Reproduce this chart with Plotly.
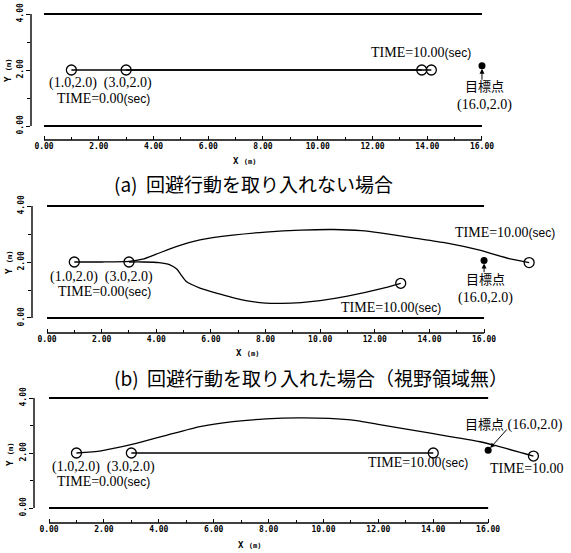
import plotly.graph_objects as go

W, H = 571, 553

# ---------------- data ----------------
wall_x = [0.0, 16.0]
wall_top_y = [4.0, 4.0]
wall_bottom_y = [0.0, 0.0]

x_tick_vals = [0, 2, 4, 6, 8, 10, 12, 14, 16]
x_tick_text = ["0.00", "2.00", "4.00", "6.00", "8.00", "10.00", "12.00", "14.00", "16.00"]
x_minor_vals = [1, 3, 5, 7, 9, 11, 13, 15]
y_tick_vals = [0, 2, 4]
y_tick_text = ["0.00", "2.00", "4.00"]
y_minor_vals = [1, 3]

# (a) no avoidance
a_agent1_x = [1.0, 13.8]
a_agent1_y = [2.0, 2.0]
a_agent2_x = [3.0, 14.15]
a_agent2_y = [2.0, 2.0]
a_target = [16.0, 2.15]

# (b) avoidance, no field of view
b_agent1_x = [1.0, 2.0, 3.0, 3.5, 4.0, 4.7, 5.6, 6.8, 8.0, 9.3, 10.5, 11.5, 12.2, 13.4, 14.6, 15.8, 17.0, 17.65]
b_agent1_y = [2.0, 2.0, 2.02, 2.1, 2.28, 2.54, 2.79, 2.96, 3.07, 3.14, 3.16, 3.12, 3.04, 2.86, 2.68, 2.43, 2.1, 1.98]
b_agent2_x = [3.0, 3.5, 4.1, 4.5, 4.75, 4.9, 5.1, 5.6, 6.2, 6.8, 7.4, 8.0, 8.6, 9.3, 10.0, 11.0, 12.2, 12.95]
b_agent2_y = [2.0, 2.0, 1.98, 1.9, 1.75, 1.55, 1.3, 1.07, 0.89, 0.73, 0.6, 0.53, 0.52, 0.55, 0.62, 0.78, 1.04, 1.24]
b_target = [16.0, 2.05]

# (c)
c_agent1_x = [1.0, 1.9, 3.1, 4.3, 5.5, 6.7, 7.9, 9.1, 10.2, 11.2, 12.1, 13.9, 15.7, 16.2, 17.65]
c_agent1_y = [2.0, 2.08, 2.33, 2.65, 2.96, 3.14, 3.24, 3.28, 3.26, 3.18, 3.02, 2.72, 2.41, 2.29, 1.89]
c_agent2_x = [3.0, 14.0]
c_agent2_y = [2.0, 2.0]
c_target = [16.0, 2.1]

captions = ["(a)  回避行動を取り入れない場合", "(b)  回避行動を取り入れた場合（視野領域無）"]

# ---------------- layout helpers ----------------
def pp(x, y):
    return x / W, 1 - y / H

panels = [
    dict(xd=(31, 560), yd=(4, 140), xr=(-0.475, 18.85), yr=(-0.5, 4.357),
         ag=[(a_agent1_x, a_agent1_y), (a_agent2_x, a_agent2_y)], tg=a_target,
         xt=(245, 161), yt=(8, 70)),
    dict(xd=(32, 560), yd=(195, 333), xr=(-0.549, 18.78), yr=(-0.536, 4.393),
         ag=[(b_agent1_x, b_agent1_y), (b_agent2_x, b_agent2_y)], tg=b_target,
         xt=(248, 353), yt=(9, 262)),
    dict(xd=(34, 565), yd=(388, 523), xr=(-0.547, 18.8), yr=(-0.545, 4.364),
         ag=[(c_agent1_x, c_agent1_y), (c_agent2_x, c_agent2_y)], tg=c_target,
         xt=(250, 545), yt=(10, 454)),
]

tick_font = dict(family="DejaVu Sans Mono", size=8, color="black", weight="bold")
serif = dict(family="Liberation Serif", size=14, color="black")
title_font = dict(family="DejaVu Sans Mono", size=9, color="black", weight="bold")

fig = go.Figure()
layout = dict(width=W, height=H, margin=dict(l=0, r=0, t=0, b=0),
              paper_bgcolor="white", plot_bgcolor="white", showlegend=False)
shapes = []
annotations = []

for i, p in enumerate(panels):
    sfx = "" if i == 0 else str(i + 1)
    xa, ya = "x" + sfx, "y" + sfx
    x0, x1 = pp(p["xd"][0], 0)[0], pp(p["xd"][1], 0)[0]
    yb, yt = pp(0, p["yd"][1])[1], pp(0, p["yd"][0])[1]
    layout["xaxis" + sfx] = dict(
        domain=[x0, x1], range=list(p["xr"]), anchor=ya, showgrid=False, zeroline=False,
        showline=False, tickmode="array", tickvals=x_tick_vals, ticktext=x_tick_text,
        ticks="inside", ticklen=4, tickwidth=1.2, tickcolor="black", tickfont=tick_font,
        minor=dict(tickvals=x_minor_vals, ticks="inside", ticklen=3, tickwidth=1, tickcolor="black"),
    )
    layout["yaxis" + sfx] = dict(
        domain=[yb, yt], range=list(p["yr"]), anchor=xa, showgrid=False, zeroline=False,
        showline=False, tickmode="array", tickvals=y_tick_vals, ticktext=y_tick_text,
        ticks="outside", ticklen=4, tickwidth=1.2, tickcolor="black", tickfont=tick_font,
        tickangle=-90,
        minor=dict(tickvals=y_minor_vals, ticks="outside", ticklen=3, tickwidth=1, tickcolor="black"),
    )
    # axis lines (spanning only 0..16 and 0..4)
    shapes.append(dict(type="line", xref=xa, yref=ya + " domain", x0=0, x1=16, y0=0, y1=0,
                       line=dict(color="black", width=1.4)))
    shapes.append(dict(type="line", xref=xa + " domain", yref=ya, x0=0, x1=0, y0=0, y1=4,
                       line=dict(color="black", width=1.4)))
    # walls
    for wy in (wall_top_y, wall_bottom_y):
        fig.add_trace(go.Scatter(x=wall_x, y=wy, mode="lines", xaxis=xa, yaxis=ya,
                                 line=dict(color="black", width=2), hoverinfo="skip"))
    # agents
    for axs, ays in p["ag"]:
        fig.add_trace(go.Scatter(x=axs, y=ays, mode="lines", xaxis=xa, yaxis=ya,
                                 line=dict(color="black", width=1.3, shape="spline", smoothing=0.6),
                                 hoverinfo="skip"))
        fig.add_trace(go.Scatter(x=[axs[0], axs[-1]], y=[ays[0], ays[-1]], mode="markers",
                                 xaxis=xa, yaxis=ya, cliponaxis=False,
                                 marker=dict(symbol="circle-open", size=10, color="black",
                                             line=dict(width=1.3, color="black"))))
    # target point
    fig.add_trace(go.Scatter(x=[p["tg"][0]], y=[p["tg"][1]], mode="markers", xaxis=xa, yaxis=ya,
                             marker=dict(symbol="circle", size=7, color="black")))
    # axis titles
    tx, ty = pp(*p["xt"])
    annotations.append(dict(xref="paper", yref="paper", x=tx, y=ty, showarrow=False,
                            xanchor="center", yanchor="middle",
                            text="X <span style='font-size:7px'>(m)</span>", font=title_font))
    tx, ty = pp(*p["yt"])
    annotations.append(dict(xref="paper", yref="paper", x=tx, y=ty, showarrow=False, textangle=-90,
                            xanchor="center", yanchor="middle",
                            text="Y <span style='font-size:7px'>(m)</span>", font=title_font))

SEC = "<span style='font-family:Liberation Sans;font-size:12px'>(sec)</span>"
TGT = "<span style='font-family:Noto Sans CJK JP;font-size:13px'>目標点</span>"

def lab(xa, ya, x, y, text, font=serif, **kw):
    d = dict(xref=xa, yref=ya, x=x, y=y, text=text, showarrow=False, font=font,
             xanchor="center", yanchor="middle")
    d.update(kw)
    annotations.append(d)

# (a)
lab("x", "y", 2.05, 1.54, "(1.0,2.0)  (3.0,2.0)")
lab("x", "y", 2.16, 1.0, "TIME=0.00" + SEC)
lab("x", "y", 13.77, 2.61, "TIME=10.00" + SEC)
lab("x", "y", 16.1, 1.12, TGT + "<br>(16.0,2.0)")
annotations.append(dict(xref="x", yref="y", axref="x", ayref="y", x=a_target[0], y=a_target[1],
                        ax=16.0, ay=1.6, text="", showarrow=True, arrowhead=2, arrowsize=1,
                        arrowwidth=1, standoff=3, arrowcolor="black"))
# (b)
lab("x2", "y2", 2.01, 1.45, "(1.0,2.0)  (3.0,2.0)")
lab("x2", "y2", 2.1, 0.95, "TIME=0.00" + SEC)
lab("x2", "y2", 16.77, 3.04, "TIME=10.00" + SEC)
lab("x2", "y2", 16.05, 1.08, TGT + "<br>(16.0,2.0)")
lab("x2", "y2", 12.6, 0.39, "TIME=10.00" + SEC)
annotations.append(dict(xref="x2", yref="y2", axref="x2", ayref="y2", x=b_target[0], y=b_target[1],
                        ax=16.0, ay=1.58, text="", showarrow=True, arrowhead=2, arrowsize=1,
                        arrowwidth=1, standoff=3, arrowcolor="black"))
# (c)
lab("x3", "y3", 2.0, 1.49, "(1.0,2.0)  (3.0,2.0)")
lab("x3", "y3", 1.97, 0.98, "TIME=0.00" + SEC)
lab("x3", "y3", 16.95, 3.09, TGT + " (16.0,2.0)")
lab("x3", "y3", 13.45, 1.67, "TIME=10.00" + SEC)
lab("x3", "y3", 17.4, 1.42, "TIME=10.00")
annotations.append(dict(xref="x3", yref="y3", axref="x3", ayref="y3", x=c_target[0], y=c_target[1],
                        ax=16.73, ay=2.91, text="", showarrow=True, arrowhead=2, arrowsize=1,
                        arrowwidth=1, standoff=3, arrowcolor="black"))

# captions
cap_font = dict(family="Noto Sans CJK JP", size=19, color="black")
for cap, (cx, cy) in zip(captions, [(112, 183), (112, 377)]):
    px_, py_ = pp(cx, cy)
    annotations.append(dict(xref="paper", yref="paper", x=px_, y=py_, xanchor="left",
                            yanchor="middle", showarrow=False, text=cap, font=cap_font))

layout["shapes"] = shapes
layout["annotations"] = annotations
fig.update_layout(**layout)
fig.write_html("out.html", config={"displayModeBar": False},
               post_script="document.body.style.margin='0';document.body.style.overflow='hidden';")
